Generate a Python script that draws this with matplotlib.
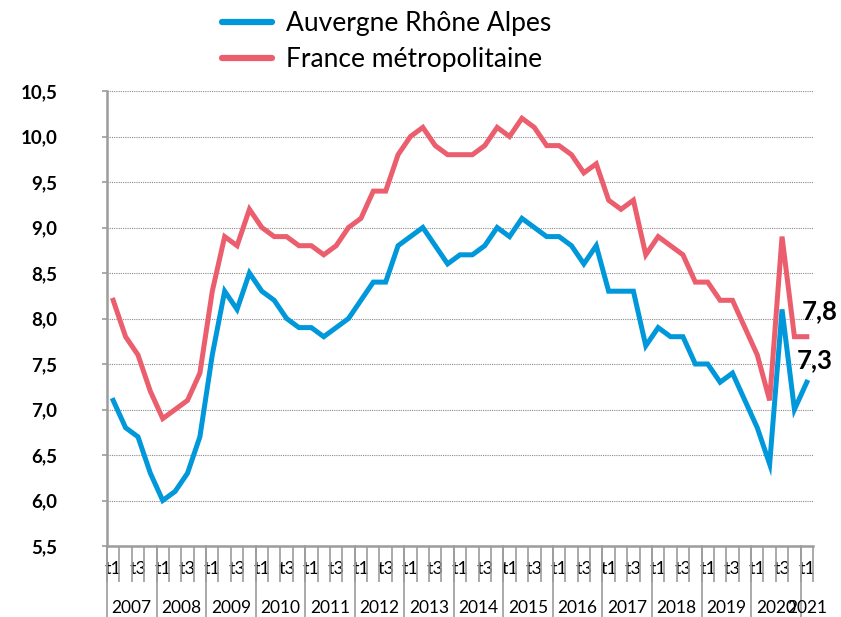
import matplotlib
matplotlib.use("Agg")
import matplotlib.pyplot as plt

# ---- data (quarterly unemployment rate, %) ----
years = ["2007", "2008", "2009", "2010", "2011", "2012", "2013", "2014",
         "2015", "2016", "2017", "2018", "2019", "2020", "2021"]
quarters = ["t1", "t2", "t3", "t4"]

aura = [7.1, 6.8, 6.7, 6.3, 6.0, 6.1, 6.3, 6.7,
        7.6, 8.3, 8.1, 8.5, 8.3, 8.2, 8.0, 7.9,
        7.9, 7.8, 7.9, 8.0, 8.2, 8.4, 8.4, 8.8,
        8.9, 9.0, 8.8, 8.6, 8.7, 8.7, 8.8, 9.0,
        8.9, 9.1, 9.0, 8.9, 8.9, 8.8, 8.6, 8.8,
        8.3, 8.3, 8.3, 7.7, 7.9, 7.8, 7.8, 7.5,
        7.5, 7.3, 7.4, 7.1, 6.8, 6.4, 8.1, 7.0,
        7.3]
france = [8.2, 7.8, 7.6, 7.2, 6.9, 7.0, 7.1, 7.4,
          8.3, 8.9, 8.8, 9.2, 9.0, 8.9, 8.9, 8.8,
          8.8, 8.7, 8.8, 9.0, 9.1, 9.4, 9.4, 9.8,
          10.0, 10.1, 9.9, 9.8, 9.8, 9.8, 9.9, 10.1,
          10.0, 10.2, 10.1, 9.9, 9.9, 9.8, 9.6, 9.7,
          9.3, 9.2, 9.3, 8.7, 8.9, 8.8, 8.7, 8.4,
          8.4, 8.2, 8.2, 7.9, 7.6, 7.1, 8.9, 7.8,
          7.8]

yticks = [5.5, 6.0, 6.5, 7.0, 7.5, 8.0, 8.5, 9.0, 9.5, 10.0, 10.5]

blue = "#0098DA"
red = "#EB5E6E"
grey = "#9C9C9C"

plt.rcParams["font.family"] = ["Lato", "DejaVu Sans"]

n = len(aura)
x = list(range(n))

fig = plt.figure(figsize=(8.41, 6.17), dpi=100)
ax = fig.add_axes([107 / 841, 1 - 546 / 617, 706 / 841, 455 / 617])

ax.plot(x, aura, color=blue, lw=3.6, solid_joinstyle="miter", label="Auvergne Rhône Alpes")
ax.plot(x, france, color=red, lw=3.6, solid_joinstyle="miter", label="France métropolitaine")

# end value labels
ax.annotate("{:.1f}".format(france[-1]).replace(".", ","), (x[-1], france[-1]),
            textcoords="offset points", xytext=(-4, 10), ha="left", va="bottom",
            fontsize=18.5, fontweight="bold")
ax.annotate("{:.1f}".format(aura[-1]).replace(".", ","), (x[-1], aura[-1]),
            textcoords="offset points", xytext=(-7, 7), ha="left", va="bottom",
            fontsize=18.5, fontweight="bold")

# y axis
ax.set_ylim(5.5, 10.5)
ax.set_yticks(yticks)
ax.set_yticklabels(["{:.1f}".format(v).replace(".", ",") for v in yticks],
                   fontsize=13.5, fontweight="bold")
ax.tick_params(axis="y", length=3.6, width=1.2, color=grey, pad=32)
ax.grid(axis="y", linestyle=(0, (1, 1)), color="#8a8a8a", lw=0.8)

# x axis: quarter labels t1 / t3, year row below
ax.set_xlim(-0.5, n - 0.5)
lab_pos = [i for i in x if i % 4 in (0, 2)]
ax.set_xticks(lab_pos)
ax.set_xticklabels([quarters[i % 4] for i in lab_pos], fontsize=13)
ax.set_xticks([i - 0.5 for i in range(n + 1)], minor=True)
ax.tick_params(axis="x", which="major", length=0, pad=11)
ax.tick_params(axis="x", which="minor", length=26, width=1.2, color=grey)

trans = ax.get_xaxis_transform()
for k, yr in enumerate(years):
    first = 4 * k
    last = min(4 * k + 3, n - 1)
    ax.text((first + last) / 2, -0.136, yr, transform=trans,
            ha="center", va="center", fontsize=12.5)
    ax.plot([first - 0.5, first - 0.5], [0, -0.2], transform=trans,
            color=grey, lw=1.2, clip_on=False)

for side in ["top", "right"]:
    ax.spines[side].set_visible(False)
for side in ["left", "bottom"]:
    ax.spines[side].set_color(grey)
    ax.spines[side].set_linewidth(1.8)

fig.legend(loc="upper left", bbox_to_anchor=(222 / 841, 1 - 11 / 617),
           frameon=False, fontsize=19, handlelength=1.9, handletextpad=0.52,
           labelspacing=0.42, borderpad=0, borderaxespad=0)
for line in fig.legends[0].get_lines():
    line.set_linewidth(4.5)
    line.set_solid_capstyle("round")

fig.savefig("out.png", dpi=100)
